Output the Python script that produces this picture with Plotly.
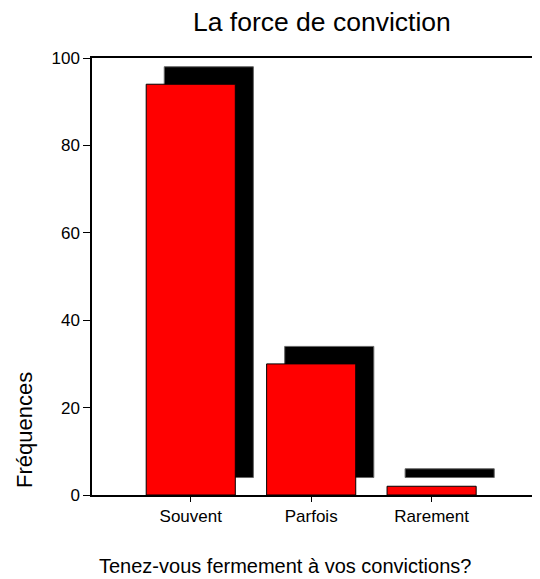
import plotly.graph_objects as go

# Data
categories = ["Souvent", "Parfois", "Rarement"]
frequencies = [94, 30, 2]
y_ticks = [0, 20, 40, 60, 80, 100]

# 3D-like shadow offset (style, in axis units)
SHADOW_DX = 0.15
SHADOW_DY = 4

# page keeps an 8px body margin, so the figure is sized to fit inside it
W, H = 532, 571
PAGE = 8
PLOT_L, PLOT_R, PLOT_T, PLOT_B = 92, 540, 58, 495  # plot box in page pixels


def px_x(x):
    return (x - PLOT_L) / (PLOT_R - PLOT_L)


def px_y(y):
    return (PLOT_B - y) / (PLOT_B - PLOT_T)


positions = list(range(len(categories)))

fig = go.Figure()

# Shadow bars behind the red bars
fig.add_trace(go.Bar(
    x=[p + SHADOW_DX for p in positions],
    y=frequencies,
    base=[SHADOW_DY] * len(frequencies),
    width=0.74,
    marker=dict(color="black", line=dict(color="#666666", width=1)),
    hoverinfo="skip",
    showlegend=False,
))

# Main red bars
fig.add_trace(go.Bar(
    x=positions,
    y=frequencies,
    width=0.74,
    marker=dict(color="#ff0000", line=dict(color="black", width=1)),
    showlegend=False,
))

fig.update_layout(
    width=W,
    height=H,
    margin=dict(l=PLOT_L - PAGE, r=PAGE + W - PLOT_R, t=PLOT_T - PAGE, b=PAGE + H - PLOT_B),
    paper_bgcolor="white",
    plot_bgcolor="white",
    barmode="overlay",
    font=dict(family="Liberation Sans, Arial, sans-serif", color="black"),
    xaxis=dict(
        range=[-0.82, 2.9],
        tickvals=positions,
        ticktext=categories,
        ticks="outside",
        ticklen=5,
        tickcolor="black",
        showline=True,
        linecolor="black",
        linewidth=1.5,
        mirror=True,
        showgrid=False,
        zeroline=False,
        tickfont=dict(size=17),
    ),
    yaxis=dict(
        range=[0, 100],
        tickvals=y_ticks,
        ticks="outside",
        ticklen=7,
        tickcolor="black",
        showline=True,
        linecolor="black",
        linewidth=1.5,
        showgrid=False,
        zeroline=False,
        tickfont=dict(size=17),
    ),
    annotations=[
        dict(
            text="La force de conviction",
            xref="paper", yref="paper",
            x=px_x(322), y=px_y(22), xanchor="center", yanchor="middle",
            showarrow=False,
            font=dict(size=26.5),
        ),
        dict(
            text="Fréquences",
            xref="paper", yref="paper",
            x=px_x(24), y=px_y(430), xanchor="center", yanchor="middle",
            textangle=-90, showarrow=False,
            font=dict(size=22),
        ),
        dict(
            text="Tenez-vous fermement à vos convictions?",
            xref="paper", yref="paper",
            x=px_x(285), y=px_y(566), xanchor="center", yanchor="middle",
            showarrow=False,
            font=dict(size=20),
        ),
    ],
)

fig.write_html("out.html")
